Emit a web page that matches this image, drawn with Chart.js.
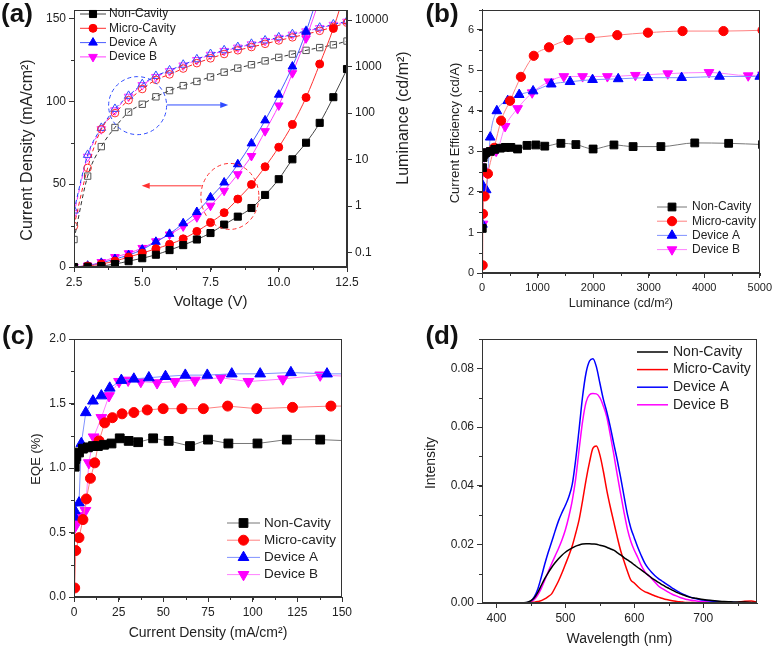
<!DOCTYPE html>
<html>
<head>
<meta charset="utf-8">
<script src="https://cdn.jsdelivr.net/npm/chart.js@4.4.1/dist/chart.umd.min.js"></script>
<style>
  body { margin: 0; background: #fff; }
  #wrap { position: relative; width: 775px; height: 649px; overflow: hidden; }
  canvas { position: absolute; }
</style>
</head>
<body>
<div id="wrap">
  <canvas id="chartA" width="420" height="315" style="left:0;top:0"></canvas>
  <canvas id="chartB" width="355" height="315" style="left:420px;top:0"></canvas>
  <canvas id="chartC" width="390" height="334" style="left:0;top:315px"></canvas>
  <canvas id="chartD" width="355" height="334" style="left:420px;top:315px"></canvas>
</div>
<script>
// ---- (a) J-V-L ----
const voltage = [2.5, 3, 3.5, 4, 4.5, 5, 5.5, 6, 6.5, 7, 7.5, 8, 8.5, 9, 9.5, 10, 10.5, 11, 11.5, 12, 12.5]
const jNonCavity = [0, 0.2, 0.6, 1.8, 3.5, 5.3, 7.4, 10.2, 13.2, 16.6, 20.5, 25.6, 30.4, 35.6, 43.5, 53, 65, 75, 87, 102.5, 119.5]
const jMicroCavity = [0, 0.6, 1.8, 3.6, 6, 8.4, 11, 13.7, 17, 21.5, 26.8, 32.8, 41, 49.8, 60.5, 72.3, 86, 102.3, 122.5, 144, 170]
const jDeviceA = [0, 0.8, 2.5, 4.8, 7.2, 10.5, 15.2, 20, 26.4, 33.2, 42, 51, 62, 74.6, 88.5, 104, 121, 142, 168, 198, 232]
const jDeviceB = [0, 0.9, 3, 6, 8.3, 11.5, 15.5, 19.6, 24.5, 30, 37, 46, 56, 67, 82, 97.5, 117, 138, 162, 190, 222]
const lumNonCavity = [0.19, 4.4, 19, 49, 105, 155, 224, 305, 390, 480, 600, 760, 930, 1100, 1330, 1580, 1860, 2240, 2570, 2950, 3550]
const lumMicroCavity = [0.37, 6.6, 45, 100, 190, 330, 520, 680, 910, 1190, 1510, 1870, 2250, 2640, 3100, 3660, 4270, 5000, 5900, 7140, 8800]
const lumDeviceA = [0.8, 12.6, 48, 123, 235, 420, 630, 830, 1100, 1440, 1870, 2250, 2640, 3100, 3660, 4270, 5000, 5900, 6900, 8100, 9500]
const lumDeviceB = [0.7, 11.5, 45, 115, 225, 400, 600, 800, 1060, 1390, 1800, 2180, 2570, 3020, 3570, 4170, 4880, 5750, 6750, 7950, 9300]
const voltTicks = [2.5, 5, 7.5, 10, 12.5]
const lumTicks = [0.1, 1, 10, 100, 1000, 10000]

// ---- (b) current efficiency vs luminance ----
const ceLumNonCavity = [5, 10, 20, 40, 70, 150, 230, 330, 420, 520, 640, 810, 970, 1130, 1420, 1690, 2000, 2375, 2720, 3220, 3830, 4440, 5050]
const ceNonCavity = [1.1, 2.6, 2.85, 2.93, 2.97, 3.0, 3.05, 3.08, 3.1, 3.1, 3.06, 3.15, 3.16, 3.13, 3.2, 3.17, 3.06, 3.16, 3.12, 3.12, 3.21, 3.2, 3.17]
const ceLumMicroCavity = [12, 18, 48, 107, 220, 344, 505, 700, 932, 1205, 1555, 1942, 2435, 2987, 3610, 4347, 5050]
const ceMicroCavity = [0.19, 1.46, 1.89, 2.45, 3.09, 3.76, 4.25, 4.84, 5.36, 5.57, 5.75, 5.8, 5.87, 5.93, 5.97, 5.97, 5.99]
const ceLumDeviceA = [8, 18, 75, 148, 267, 463, 670, 920, 1247, 1585, 1990, 2452, 2987, 3593, 4276, 5000]
const ceDeviceA = [1.2, 2.15, 2.05, 3.35, 4.0, 4.25, 4.4, 4.49, 4.66, 4.72, 4.77, 4.79, 4.82, 4.82, 4.85, 4.85]
const ceLumDeviceB = [18, 22, 130, 255, 416, 641, 903, 1205, 1473, 1811, 2257, 2761, 3343, 4086, 4792, 5050]
const ceDeviceB = [1.21, 2.52, 3.0, 3.01, 3.62, 4.06, 4.45, 4.72, 4.85, 4.85, 4.85, 4.88, 4.92, 4.95, 4.87, 4.89]

// ---- (c) EQE vs current density ----
const eqeJNonCavity = [0.4, 0.8, 1.3, 2.8, 5, 7.8, 10.6, 13.4, 16.8, 21, 25.6, 30.6, 35.9, 44.3, 53, 64.9, 75, 86.4, 102.7, 119.1, 137.8, 155]
const eqeNonCavity = [1.01, 1.07, 1.09, 1.12, 1.15, 1.16, 1.17, 1.17, 1.18, 1.19, 1.23, 1.21, 1.2, 1.23, 1.21, 1.17, 1.22, 1.19, 1.19, 1.22, 1.22, 1.21]
const eqeJMicroCavity = [0.4, 1.0, 2.8, 5, 6.9, 9.2, 11.6, 14, 17.2, 21.5, 26.9, 33.5, 41, 49.9, 60.4, 72.4, 86, 102.3, 122.3, 143.8, 155]
const eqeMicroCavity = [0.07, 0.36, 0.46, 0.6, 0.76, 0.92, 1.04, 1.21, 1.35, 1.39, 1.42, 1.43, 1.45, 1.46, 1.46, 1.46, 1.48, 1.46, 1.47, 1.48, 1.48]
const eqeJDeviceA = [0.3, 0.4, 2.8, 4.1, 6.6, 10.6, 15.3, 20, 26.5, 33.5, 41.9, 51.2, 62.3, 74.6, 88.3, 104.2, 121.4, 141.6, 155]
const eqeDeviceA = [0.62, 0.67, 0.73, 1.19, 1.43, 1.52, 1.56, 1.62, 1.68, 1.69, 1.7, 1.71, 1.72, 1.72, 1.73, 1.73, 1.74, 1.73, 1.73]
const eqeJDeviceB = [0.4, 0.9, 3.2, 6.4, 8.3, 11, 15.3, 19.6, 25.2, 30.3, 37.4, 46.5, 56.5, 67.7, 82.1, 97.6, 116.9, 137.8, 155]
const eqeDeviceB = [0.54, 0.575, 0.63, 0.67, 1.04, 1.24, 1.39, 1.56, 1.67, 1.68, 1.67, 1.66, 1.67, 1.68, 1.7, 1.67, 1.69, 1.72, 1.71]

// ---- (d) EL spectra ----
const wavelength = [380, 390, 400, 410, 420, 430,
  440, 445, 450, 455, 460, 465, 470, 475, 480, 485, 490, 495, 500, 505, 510, 515, 520, 525, 530, 535, 540,
  545, 550, 555, 560, 565, 570, 575, 580, 585, 590, 595, 600, 605, 610, 615, 620, 625, 630, 635, 640,
  645, 650, 655, 660, 665, 670, 675, 680, 690, 700, 710, 720, 730, 740, 750, 760, 770, 778]
const specNonCavity = [0, 0, 0, 0, 0, 0,
  0.0001, 0.0003, 0.0008, 0.0018, 0.0036, 0.006, 0.0083, 0.0103, 0.0121, 0.0137, 0.0151, 0.0163, 0.0173, 0.0181, 0.0188, 0.0194, 0.0198, 0.0201, 0.0202, 0.0202, 0.0201,
  0.02, 0.0197, 0.0194, 0.019, 0.0185, 0.018, 0.0172, 0.0164, 0.0155, 0.0147, 0.0139, 0.013, 0.0121, 0.0113, 0.0104, 0.0095, 0.0086, 0.0078, 0.007, 0.0063,
  0.0056, 0.005, 0.0044, 0.0038, 0.0033, 0.0028, 0.0024, 0.002, 0.0016, 0.0012, 0.0009, 0.0007, 0.0005, 0.0004, 0.0003, 0.0003, 0.0002, 0.0002]
const specMicroCavity = [0, 0, 0, 0, 0, 0,
  0, 0.0001, 0.0002, 0.0003, 0.0005, 0.0008, 0.0014, 0.0022, 0.0031, 0.0052, 0.0075, 0.0102, 0.0132, 0.0162, 0.0195, 0.0238, 0.0285, 0.035, 0.042, 0.048, 0.0528,
  0.0535, 0.0505, 0.045, 0.0385, 0.0329, 0.0278, 0.0227, 0.018, 0.0143, 0.0108, 0.0078, 0.0068, 0.0056, 0.0046, 0.0039, 0.0034, 0.0029, 0.0024, 0.002, 0.0016,
  0.0013, 0.001, 0.0008, 0.0006, 0.0004, 0.0003, 0.0002, 0.0002, 0.0001, 0.0001, 0.0001, 0.0001, 0.0001, 0.0001, 0.0002, 0.0006, 0.0007, 0.0002]
const specDeviceA = [0, 0, 0, 0, 0, 0,
  0, 0.0002, 0.0007, 0.0022, 0.0048, 0.0088, 0.0132, 0.0172, 0.0208, 0.0245, 0.028, 0.0308, 0.0333, 0.0362, 0.0405, 0.049, 0.0595, 0.0705, 0.0785, 0.0825, 0.0833,
  0.0805, 0.075, 0.0695, 0.0652, 0.0602, 0.0545, 0.049, 0.043, 0.0365, 0.0302, 0.0255, 0.0222, 0.019, 0.0162, 0.0137, 0.0119, 0.0105, 0.0093, 0.0083, 0.0075,
  0.0067, 0.0059, 0.0051, 0.0044, 0.0037, 0.0031, 0.0026, 0.0021, 0.0014, 0.001, 0.0007, 0.0005, 0.0004, 0.0003, 0.0002, 0.0002, 0.0001, 0.0001]
const specDeviceB = [0, 0, 0, 0, 0, 0,
  0, 0.0001, 0.0004, 0.0012, 0.0028, 0.005, 0.0078, 0.0106, 0.0134, 0.016, 0.0186, 0.0215, 0.025, 0.0295, 0.035, 0.0425, 0.0525, 0.062, 0.0685, 0.071, 0.0714,
  0.0713, 0.07, 0.0672, 0.0635, 0.0575, 0.051, 0.044, 0.0374, 0.031, 0.0252, 0.021, 0.018, 0.0155, 0.0128, 0.0108, 0.0095, 0.0084, 0.0071, 0.0058, 0.005,
  0.0043, 0.0036, 0.003, 0.0025, 0.002, 0.0016, 0.0013, 0.001, 0.0007, 0.0005, 0.0003, 0.0002, 0.0001, 0.0001, 0.0001, 0.0001, 0.0001, 0.0001]
const waveTicks = [400, 500, 600, 700]

const FONT = '"Liberation Sans", Arial, sans-serif'
Chart.defaults.font.family = FONT
Chart.defaults.color = '#222'
Chart.defaults.animation = false
Chart.defaults.events = []

function xy(xs, ys) {
  return xs.map((x, i) => ({ x: x, y: ys[i] }))
}

function axis(o) {
  return {
    type: o.type || 'linear',
    position: o.position,
    min: o.min,
    max: o.max,
    grid: { drawOnChartArea: false, drawTicks: true, tickLength: 5, color: '#333', lineWidth: 1 },
    border: { color: '#333', width: 1 },
    ticks: {
      stepSize: o.step, includeBounds: false, autoSkip: false, maxRotation: 0,
      color: '#222', padding: 3, font: { size: o.font || 12 }, callback: o.fmt
    },
    title: o.title
      ? { display: true, text: o.title, color: '#222', font: { size: o.titleSize || 14 }, padding: { top: 0, bottom: o.titlePad || 0 } }
      : { display: false },
    afterFit: function (s) {
      if (o.width) s.width = o.width
      if (o.height) s.height = o.height
    },
    afterBuildTicks: o.tickValues ? function (s) { s.ticks = o.tickValues.map(v => ({ value: v })) } : undefined
  }
}

// frame, minor ticks, in-plot legend, labels and the (a) annotations
const overlay = {
  id: 'overlay',
  afterDraw(chart, args, o) {
    const ctx = chart.ctx
    const a = chart.chartArea
    ctx.save()
    ctx.strokeStyle = '#333'
    ctx.lineWidth = 1
    ctx.setLineDash([])
    ctx.strokeRect(Math.round(a.left) + 0.5, Math.round(a.top) + 0.5, Math.round(a.right - a.left) - 1, Math.round(a.bottom - a.top) - 1)

    // minor ticks
    Object.entries(o.minor || {}).forEach(([id, step]) => {
      const s = chart.scales[id]
      ctx.beginPath()
      for (let v = Math.ceil(s.min / step) * step; v <= s.max + 1e-9; v += step) {
        const p = Math.round(s.getPixelForValue(v)) + 0.5
        if (s.isHorizontal()) { ctx.moveTo(p, a.bottom); ctx.lineTo(p, a.bottom + 3) }
        else if (s.position === 'left') { ctx.moveTo(a.left, p); ctx.lineTo(a.left - 3, p) }
        else { ctx.moveTo(a.right, p); ctx.lineTo(a.right + 3, p) }
      }
      ctx.stroke()
    })

    // annotations (given in data units of the x / y scales)
    const sx = chart.scales.x, sy = chart.scales.y
    ;(o.rings || []).forEach(r => {
      ctx.strokeStyle = r.color
      ctx.setLineDash([4, 3])
      ctx.beginPath()
      ctx.ellipse(sx.getPixelForValue(r.x), sy.getPixelForValue(r.y), r.rx, r.ry, 0, 0, Math.PI * 2)
      ctx.stroke()
    })
    ctx.setLineDash([])
    ;(o.arrows || []).forEach(r => {
      const x1 = sx.getPixelForValue(r.x1), x2 = sx.getPixelForValue(r.x2), y = sy.getPixelForValue(r.y)
      const d = Math.sign(x2 - x1)
      ctx.strokeStyle = r.color
      ctx.fillStyle = r.color
      ctx.beginPath(); ctx.moveTo(x1, y); ctx.lineTo(x2 - d * 6, y); ctx.stroke()
      ctx.beginPath(); ctx.moveTo(x2, y); ctx.lineTo(x2 - d * 8, y - 3); ctx.lineTo(x2 - d * 8, y + 3); ctx.closePath(); ctx.fill()
    })

    // legend
    const L = o.legend
    if (L) {
      L.items.forEach((di, k) => {
        const ds = chart.data.datasets[di]
        const cy = L.y + k * L.dy
        ctx.strokeStyle = ds.borderColor
        ctx.lineWidth = ds.borderWidth || 1
        ctx.beginPath(); ctx.moveTo(L.x, cy); ctx.lineTo(L.x + L.len, cy); ctx.stroke()
        if (ds.pointRadius) {
          ctx.fillStyle = ds.pointBackgroundColor
          ctx.strokeStyle = ds.pointBorderColor
          ctx.lineWidth = 1
          Chart.helpers.drawPoint(ctx, { pointStyle: ds.pointStyle, radius: ds.pointRadius, rotation: ds.pointRotation || 0, borderWidth: 1 }, L.x + L.len / 2, cy)
        }
        ctx.fillStyle = '#222'
        ctx.font = L.size + 'px ' + FONT
        ctx.textAlign = 'left'
        ctx.textBaseline = 'middle'
        ctx.fillText(ds.label, L.x + L.len + L.gap, cy)
      })
    }

    // free texts (panel letter, rotated axis titles)
    ;(o.texts || []).forEach(t => {
      ctx.save()
      ctx.translate(t.x, t.y)
      ctx.rotate((t.rot || 0) * Math.PI / 180)
      ctx.fillStyle = t.color || '#222'
      ctx.font = (t.bold ? 'bold ' : '') + t.size + 'px ' + FONT
      ctx.textAlign = 'center'
      ctx.textBaseline = 'middle'
      ctx.fillText(t.text, 0, 0)
      ctx.restore()
    })
    ctx.restore()
  }
}

function ds(label, data, o) {
  return Object.assign({
    label: label,
    data: data,
    borderWidth: 1,
    pointBorderWidth: 1,
    tension: 0
  }, o)
}

// ---------- (a) ----------
function jSet(label, ys, mark, line, style, rot, r) {
  return ds(label, xy(voltage, ys), {
    yAxisID: 'y', borderColor: line, cubicInterpolationMode: 'monotone',
    pointStyle: style, pointRotation: rot, pointRadius: r,
    pointBackgroundColor: mark, pointBorderColor: mark
  })
}
function lumSet(label, ys, mark, line, style, rot, r) {
  return ds(label + ' (L)', xy(voltage, ys), {
    yAxisID: 'y2', borderColor: line, borderDash: [4, 3], cubicInterpolationMode: 'monotone',
    pointStyle: style, pointRotation: rot, pointRadius: r,
    pointBackgroundColor: 'rgba(255,255,255,0)', pointBorderColor: mark
  })
}

new Chart('chartA', {
  type: 'line',
  data: {
    datasets: [
      jSet('Non-Cavity', jNonCavity, '#000', '#444', 'rect', 0, 5),
      jSet('Micro-Cavity', jMicroCavity, '#ff0000', '#ff3030', 'circle', 0, 4),
      jSet('Device A', jDeviceA, '#0000ff', '#4a5cff', 'triangle', 0, 5),
      jSet('Device B', jDeviceB, '#ff00ff', '#ff40ff', 'triangle', 180, 5),
      lumSet('Non-Cavity', lumNonCavity, '#555', '#333', 'rect', 0, 4.5),
      lumSet('Micro-Cavity', lumMicroCavity, '#ff3030', '#ff2020', 'circle', 0, 3.8),
      lumSet('Device A', lumDeviceA, '#3050ff', '#2040ff', 'triangle', 0, 5),
      lumSet('Device B', lumDeviceB, '#ff30ff', '#ff30ff', 'triangle', 180, 5)
    ]
  },
  options: {
    responsive: false,
    devicePixelRatio: 1,
    layout: { padding: { top: 2, left: 0, right: 0, bottom: 0 } },
    plugins: {
      legend: { display: false },
      tooltip: { enabled: false },
      overlay: {
        minor: { x: 1.25, y: 25 },
        legend: { items: [0, 1, 2, 3], x: 80, y: 14, dy: 14.3, len: 26, gap: 3, size: 12 },
        rings: [
          { x: 4.83, y: 97.4, rx: 29, ry: 29, color: '#2f4bff' },
          { x: 8.21, y: 42.6, rx: 29, ry: 33, color: '#ff3030' }
        ],
        arrows: [
          { x1: 5.9, x2: 8.15, y: 97.8, color: '#2f4bff' },
          { x1: 7.18, x2: 4.98, y: 49, color: '#ff3030' }
        ],
        texts: [
          { text: '(a)', x: 17, y: 15, size: 26, bold: true, color: '#111' },
          { text: 'Current Density (mA/cm²)', x: 28, y: 150, size: 16, rot: -90 },
          { text: 'Luminance (cd/m²)', x: 404, y: 118, size: 16, rot: -90 }
        ]
      }
    },
    scales: {
      x: axis({ position: 'bottom', min: 2.5, max: 12.5, step: 2.5, tickValues: voltTicks, fmt: v => v.toFixed(1), height: 48, title: 'Voltage (V)', titleSize: 15, titlePad: 4 }),
      y: axis({ position: 'left', min: 0, max: 155, step: 50, width: 74 }),
      y2: axis({ type: 'logarithmic', position: 'right', min: 0.0487, max: 16400, width: 73, tickValues: lumTicks, fmt: v => String(v) })
    }
  },
  plugins: [overlay]
})

// ---------- (b) ----------
function markSet(label, xs, ys, mark, line, style, rot, r, extra) {
  return ds(label, xy(xs, ys), Object.assign({
    borderColor: line, pointStyle: style, pointRotation: rot, pointRadius: r,
    pointBackgroundColor: mark, pointBorderColor: mark
  }, extra))
}

new Chart('chartB', {
  type: 'line',
  data: {
    datasets: [
      markSet('Non-Cavity', ceLumNonCavity, ceNonCavity, '#000', '#777', 'rect', 0, 5.5, { cubicInterpolationMode: 'monotone' }),
      markSet('Micro-cavity', ceLumMicroCavity, ceMicroCavity, '#ff0000', '#ff8080', 'circle', 0, 4.6, { cubicInterpolationMode: 'monotone' }),
      markSet('Device A', ceLumDeviceA, ceDeviceA, '#0000ff', '#8092ff', 'triangle', 0, 5.6, { cubicInterpolationMode: 'monotone' }),
      markSet('Device B', ceLumDeviceB, ceDeviceB, '#ff00ff', '#ff80ff', 'triangle', 180, 5.6, { cubicInterpolationMode: 'monotone' })
    ]
  },
  options: {
    responsive: false,
    devicePixelRatio: 1,
    layout: { padding: { top: 3, left: 0, right: 13, bottom: 0 } },
    plugins: {
      legend: { display: false },
      tooltip: { enabled: false },
      overlay: {
        minor: { x: 500, y: 0.5 },
        legend: { items: [0, 1, 2, 3], x: 237, y: 207, dy: 14.2, len: 30, gap: 5, size: 12 },
        texts: [
          { text: '(b)', x: 22, y: 15, size: 26, bold: true, color: '#111' },
          { text: 'Current Efficiency (cd/A)', x: 35, y: 133, size: 13, rot: -90 }
        ]
      }
    },
    scales: {
      x: axis({ position: 'bottom', min: 0, max: 5000, step: 1000, font: 11, height: 42, title: 'Luminance (cd/m²)', titleSize: 12.5, titlePad: 4 }),
      y: axis({ position: 'left', min: 0, max: 6.5, step: 1, font: 11, width: 62 })
    }
  },
  plugins: [overlay]
})

// ---------- (c) ----------
new Chart('chartC', {
  type: 'line',
  data: {
    datasets: [
      markSet('Non-Cavity', eqeJNonCavity, eqeNonCavity, '#000', '#777', 'rect', 0, 6.2),
      markSet('Micro-cavity', eqeJMicroCavity, eqeMicroCavity, '#ff0000', '#ff8080', 'circle', 0, 5),
      markSet('Device A', eqeJDeviceA, eqeDeviceA, '#0000ff', '#8092ff', 'triangle', 0, 6.2),
      markSet('Device B', eqeJDeviceB, eqeDeviceB, '#ff00ff', '#ff80ff', 'triangle', 180, 6.2)
    ]
  },
  options: {
    responsive: false,
    devicePixelRatio: 1,
    layout: { padding: { top: 24, left: 0, right: 48, bottom: 0 } },
    plugins: {
      legend: { display: false },
      tooltip: { enabled: false },
      overlay: {
        minor: { x: 12.5, y: 0.25 },
        legend: { items: [0, 1, 2, 3], x: 227, y: 208, dy: 17.2, len: 33, gap: 4, size: 13.5 },
        texts: [
          { text: '(c)', x: 18, y: 22, size: 26, bold: true, color: '#111' },
          { text: 'EQE (%)', x: 36, y: 144, size: 13, rot: -90 }
        ]
      }
    },
    scales: {
      x: axis({ position: 'bottom', min: 0, max: 150, step: 25, height: 52, title: 'Current Density (mA/cm²)', titleSize: 14, titlePad: 7 }),
      y: axis({ position: 'left', min: 0, max: 2, step: 0.5, fmt: v => v.toFixed(1), width: 74 })
    }
  },
  plugins: [overlay]
})

// ---------- (d) ----------
function specSet(label, ys, color) {
  return ds(label, xy(wavelength, ys), {
    borderColor: color, borderWidth: 1.5, pointRadius: 0, cubicInterpolationMode: 'monotone'
  })
}

new Chart('chartD', {
  type: 'line',
  data: {
    datasets: [
      specSet('Non-Cavity', specNonCavity, '#000000'),
      specSet('Micro-Cavity', specMicroCavity, '#ff0000'),
      specSet('Device A', specDeviceA, '#0000ff'),
      specSet('Device B', specDeviceB, '#ff00ff')
    ]
  },
  options: {
    responsive: false,
    devicePixelRatio: 1,
    layout: { padding: { top: 24, left: 0, right: 18, bottom: 0 } },
    plugins: {
      legend: { display: false },
      tooltip: { enabled: false },
      overlay: {
        minor: { x: 50, y: 0.01 },
        legend: { items: [0, 1, 2, 3], x: 217, y: 37, dy: 17.6, len: 31, gap: 5, size: 14 },
        texts: [
          { text: '(d)', x: 22, y: 22, size: 26, bold: true, color: '#111' },
          { text: 'Intensity', x: 11, y: 148, size: 14, rot: -90 }
        ]
      }
    },
    scales: {
      x: axis({ position: 'bottom', min: 379, max: 778, step: 100, tickValues: waveTicks, height: 46, title: 'Wavelength (nm)', titleSize: 14, titlePad: 1 }),
      y: axis({ position: 'left', min: 0, max: 0.09, step: 0.02, fmt: v => v.toFixed(2), width: 62 })
    }
  },
  plugins: [overlay]
})
</script>
</body>
</html>
